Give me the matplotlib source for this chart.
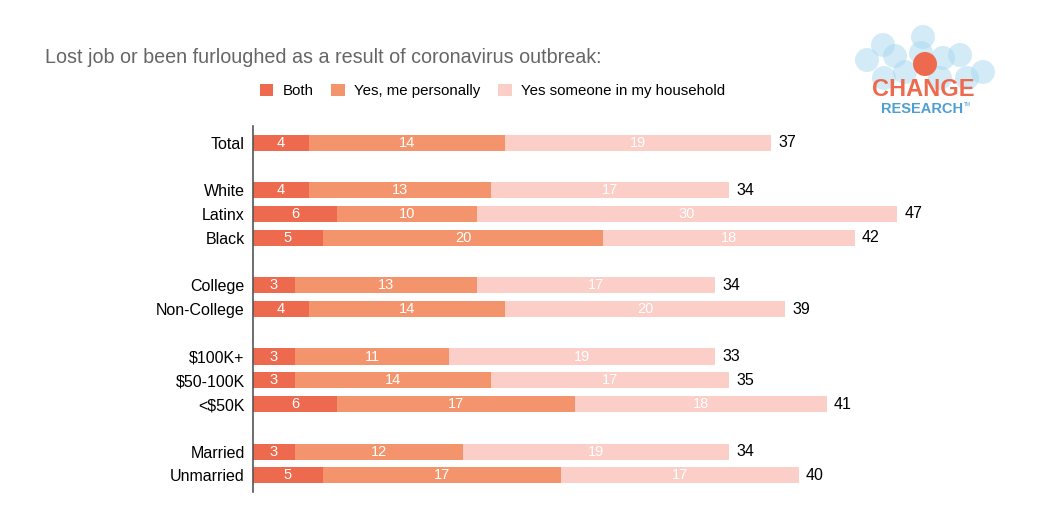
import numpy as np
import matplotlib.pyplot as plt
from matplotlib.patches import Circle

plt.rcParams['font.family'] = ['Liberation Sans', 'DejaVu Sans']

groups = ['Total', 'White', 'Latinx', 'Black', 'College', 'Non-College',
          '$100K+', '$50-100K', '<$50K', 'Married', 'Unmarried']
rows = [0, 2, 3, 4, 6, 7, 9, 10, 11, 13, 14]  # empty rows between blocks
both = [4, 4, 6, 5, 3, 4, 3, 3, 6, 3, 5]
personally = [14, 13, 10, 20, 13, 14, 11, 14, 17, 12, 17]
household = [19, 17, 30, 18, 17, 20, 19, 17, 18, 19, 17]
totals = [37, 34, 47, 42, 34, 39, 33, 35, 41, 34, 40]

series = [('Both', both, '#ee6a4f'),
          ('Yes, me personally', personally, '#f4946c'),
          ('Yes someone in my household', household, '#fbcec7')]

fig = plt.figure(figsize=(10.45, 5.3), dpi=100)
ax = fig.add_axes([0.2421, 0.0717, 0.737, 0.6905])

y = np.array(rows)
left = np.zeros(len(groups))
for name, vals, col in series:
    vals = np.array(vals)
    ax.barh(y, vals, left=left, height=0.68, color=col, label=name)
    for yi, l, v in zip(y, left, vals):
        ax.text(l + v / 2, yi, str(v), ha='center', va='center',
                color='white', fontsize=10.5)
    left = left + vals

for yi, l, t in zip(y, left, totals):
    ax.text(l + 0.5, yi, str(t), ha='left', va='center', color='black', fontsize=11.5)

ax.set_ylim(14.7, -0.7)
ax.set_xlim(0, 55)
ax.set_yticks(y)
ax.set_yticklabels(groups, fontsize=11.5)
ax.tick_params(axis='y', length=0, pad=6)
ax.set_xticks([])
for s in ['top', 'right', 'bottom']:
    ax.spines[s].set_visible(False)
ax.spines['left'].set_color('#555555')
ax.spines['left'].set_linewidth(1.2)

fig.text(0.043, 0.892, 'Lost job or been furloughed as a result of coronavirus outbreak:',
         fontsize=14.2, color='#666666', va='center')

leg = fig.legend(loc='center left', bbox_to_anchor=(0.243, 0.828), ncol=3, frameon=False,
                 fontsize=10.8, handlelength=0.9, handleheight=0.9, handletextpad=0.6,
                 columnspacing=1.2, borderaxespad=0)

# logo, drawn in pixel coordinates of its own box
lax = fig.add_axes([840 / 1045, 1 - 130 / 530, 200 / 1045, 110 / 530])
lax.set_xlim(840, 1040)
lax.set_ylim(130, 20)
lax.axis('off')
blobs = [(923, 37), (883, 45), (895, 56), (867, 60), (921, 53), (943, 58),
         (960, 55), (983, 72), (967, 78), (884, 78), (940, 78), (905, 72)]
for cx, cy in blobs:
    lax.add_patch(Circle((cx, cy), 12, color='#a8d8ef', alpha=0.5, lw=0))
lax.add_patch(Circle((925, 64), 12, color='#ee6a4f', lw=0))
lax.text(923, 90, 'CHANGE', ha='center', va='center', fontsize=17, color='#ee6a4f',
         fontweight='bold')
lax.text(922, 109, 'RESEARCH', ha='center', va='center', fontsize=10.5, color='#4d9fd1',
         fontweight='bold')
lax.text(964, 105, 'TM', ha='left', va='center', fontsize=3.5, color='#4d9fd1')

fig.savefig('out.png', dpi=100)
